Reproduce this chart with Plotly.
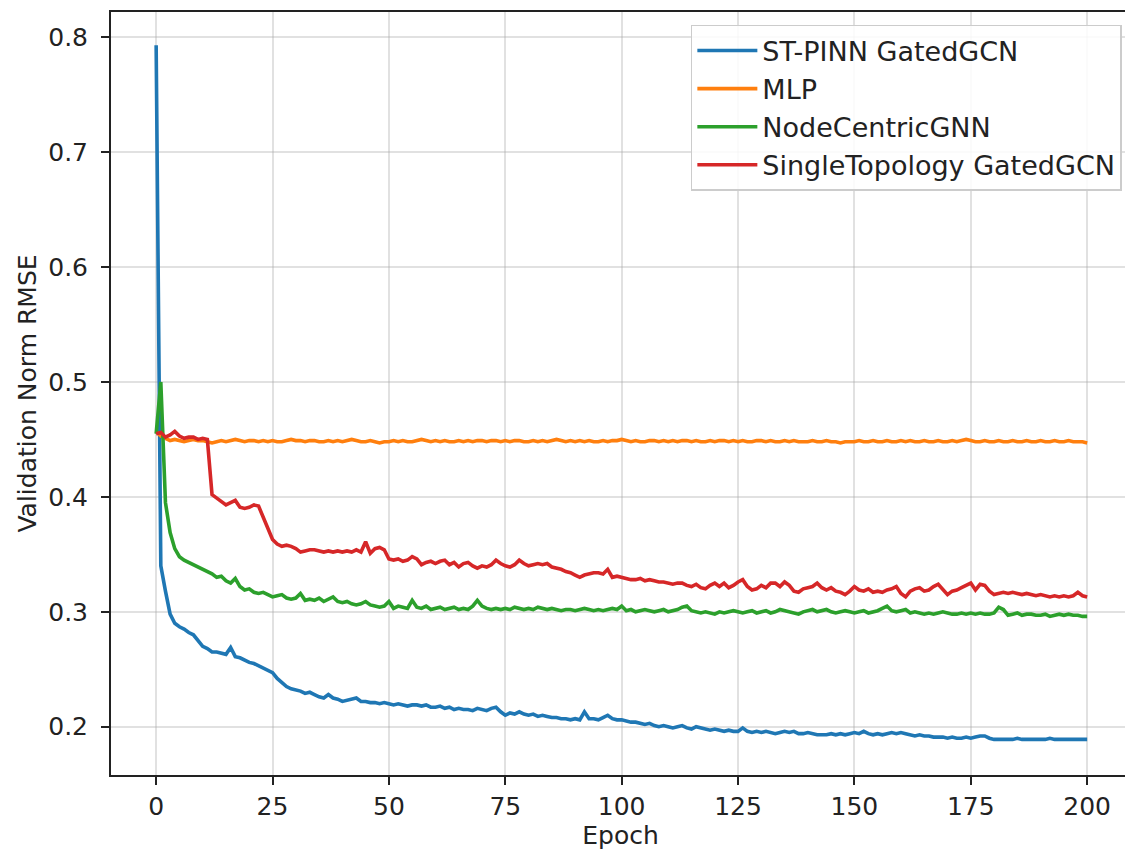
import plotly.graph_objects as go

# colours (matplotlib tab10)
c_pinn = '#1f77b4'
c_mlp = '#ff7f0e'
c_node = '#2ca02c'
c_single = '#d62728'

epochs = list(range(201))

st_pinn = [
    0.793, 0.340, 0.318, 0.298, 0.290, 0.287, 0.285, 0.282, 0.280, 0.275,
    0.270, 0.268, 0.265, 0.265, 0.264, 0.263, 0.269, 0.261, 0.260, 0.258,
    0.256, 0.255, 0.253, 0.251, 0.249, 0.247, 0.242, 0.238, 0.235, 0.233,
    0.232, 0.231, 0.229, 0.230, 0.228, 0.226, 0.225, 0.228, 0.225, 0.224,
    0.222, 0.223, 0.224, 0.225, 0.222, 0.222, 0.221, 0.221, 0.220, 0.221,
    0.220, 0.219, 0.220, 0.219, 0.218, 0.219, 0.219, 0.218, 0.219, 0.217,
    0.217, 0.218, 0.216, 0.217, 0.215, 0.216, 0.215, 0.215, 0.214, 0.216,
    0.215, 0.214, 0.216, 0.217, 0.213, 0.210, 0.212, 0.211, 0.213, 0.211,
    0.210, 0.211, 0.209, 0.210, 0.209, 0.208, 0.208, 0.207, 0.207, 0.206,
    0.207, 0.206, 0.213, 0.207, 0.207, 0.206, 0.208, 0.210, 0.207, 0.206,
    0.206, 0.205, 0.204, 0.204, 0.203, 0.202, 0.203, 0.201, 0.200, 0.201,
    0.200, 0.199, 0.200, 0.201, 0.199, 0.198, 0.200, 0.199, 0.198, 0.197,
    0.198, 0.197, 0.196, 0.197, 0.196, 0.196, 0.199, 0.196, 0.195, 0.196,
    0.195, 0.196, 0.195, 0.194, 0.195, 0.196, 0.195, 0.196, 0.194, 0.194,
    0.195, 0.194, 0.193, 0.193, 0.193, 0.194, 0.193, 0.194, 0.193, 0.194,
    0.195, 0.194, 0.196, 0.194, 0.193, 0.194, 0.193, 0.194, 0.195, 0.194,
    0.195, 0.194, 0.193, 0.192, 0.193, 0.192, 0.192, 0.191, 0.191, 0.191,
    0.190, 0.191, 0.190, 0.190, 0.191, 0.190, 0.191, 0.192, 0.192, 0.190,
    0.189, 0.189, 0.189, 0.189, 0.189, 0.190, 0.189, 0.189, 0.189, 0.189,
    0.189, 0.189, 0.190, 0.189, 0.189, 0.189, 0.189, 0.189, 0.189, 0.189,
    0.189,
]

mlp = [
    0.457, 0.453, 0.451, 0.449, 0.450, 0.449, 0.448, 0.449, 0.450, 0.449,
    0.449, 0.448, 0.447, 0.448, 0.449, 0.448, 0.449, 0.450, 0.449, 0.448,
    0.449, 0.449, 0.448, 0.449, 0.448, 0.449, 0.448, 0.448, 0.449, 0.450,
    0.449, 0.449, 0.448, 0.449, 0.449, 0.448, 0.448, 0.449, 0.448, 0.449,
    0.448, 0.449, 0.450, 0.449, 0.448, 0.448, 0.449, 0.448, 0.447, 0.448,
    0.448, 0.449, 0.448, 0.449, 0.448, 0.448, 0.449, 0.450, 0.449, 0.448,
    0.449, 0.448, 0.449, 0.448, 0.448, 0.449, 0.448, 0.449, 0.448, 0.449,
    0.449, 0.448, 0.449, 0.449, 0.448, 0.449, 0.448, 0.449, 0.449, 0.448,
    0.448, 0.449, 0.448, 0.449, 0.448, 0.449, 0.450, 0.449, 0.448, 0.449,
    0.448, 0.449, 0.448, 0.449, 0.448, 0.448, 0.449, 0.448, 0.449, 0.449,
    0.450, 0.449, 0.448, 0.449, 0.448, 0.448, 0.449, 0.449, 0.448, 0.449,
    0.448, 0.449, 0.448, 0.449, 0.449, 0.448, 0.449, 0.448, 0.448, 0.449,
    0.448, 0.449, 0.449, 0.448, 0.449, 0.448, 0.449, 0.448, 0.448, 0.449,
    0.449, 0.448, 0.449, 0.448, 0.448, 0.449, 0.448, 0.449, 0.448, 0.448,
    0.448, 0.449, 0.448, 0.448, 0.449, 0.448, 0.448, 0.447, 0.448, 0.448,
    0.448, 0.449, 0.448, 0.448, 0.449, 0.448, 0.448, 0.449, 0.448, 0.448,
    0.449, 0.448, 0.449, 0.448, 0.448, 0.449, 0.448, 0.448, 0.449, 0.448,
    0.448, 0.449, 0.448, 0.449, 0.450, 0.449, 0.448, 0.448, 0.449, 0.448,
    0.448, 0.449, 0.448, 0.448, 0.449, 0.448, 0.448, 0.449, 0.448, 0.448,
    0.449, 0.448, 0.448, 0.449, 0.448, 0.448, 0.449, 0.448, 0.448, 0.448,
    0.447,
]

node_centric = [
    0.455, 0.500, 0.395, 0.369, 0.355, 0.348, 0.345, 0.343, 0.341, 0.339,
    0.337, 0.335, 0.333, 0.330, 0.331, 0.327, 0.325, 0.329, 0.322, 0.319,
    0.320, 0.317, 0.316, 0.317, 0.315, 0.313, 0.314, 0.315, 0.312, 0.311,
    0.312, 0.316, 0.310, 0.311, 0.310, 0.312, 0.309, 0.311, 0.313, 0.309,
    0.308, 0.309, 0.307, 0.306, 0.307, 0.309, 0.306, 0.305, 0.304, 0.305,
    0.309, 0.303, 0.305, 0.304, 0.303, 0.310, 0.304, 0.303, 0.305, 0.302,
    0.303, 0.304, 0.302, 0.303, 0.304, 0.302, 0.303, 0.302, 0.305, 0.310,
    0.305, 0.303, 0.302, 0.303, 0.302, 0.303, 0.302, 0.304, 0.303, 0.302,
    0.303, 0.302, 0.304, 0.303, 0.302, 0.303, 0.302, 0.301, 0.302, 0.302,
    0.301, 0.302, 0.303, 0.302, 0.301, 0.302, 0.301, 0.302, 0.303, 0.302,
    0.305, 0.301, 0.302, 0.300, 0.301, 0.302, 0.301, 0.300, 0.301, 0.302,
    0.300, 0.301, 0.302, 0.304, 0.305, 0.301, 0.300, 0.299, 0.300, 0.299,
    0.298, 0.300, 0.299, 0.300, 0.301, 0.300, 0.299, 0.300, 0.301, 0.299,
    0.300, 0.301, 0.299, 0.300, 0.302, 0.301, 0.300, 0.299, 0.298, 0.300,
    0.301, 0.302, 0.300, 0.301, 0.302, 0.300, 0.299, 0.300, 0.301, 0.300,
    0.299, 0.300, 0.301, 0.299, 0.300, 0.301, 0.303, 0.305, 0.301, 0.300,
    0.301, 0.302, 0.299, 0.300, 0.299, 0.298, 0.299, 0.298, 0.299, 0.300,
    0.299, 0.298, 0.298, 0.299, 0.298, 0.299, 0.298, 0.299, 0.298, 0.298,
    0.299, 0.304, 0.302, 0.297, 0.298, 0.299, 0.297, 0.298, 0.298, 0.297,
    0.297, 0.298, 0.296, 0.297, 0.298, 0.297, 0.298, 0.297, 0.297, 0.296,
    0.296,
]

single_topology = [
    0.455, 0.456, 0.452, 0.454, 0.457, 0.453, 0.451, 0.452, 0.452, 0.450,
    0.451, 0.450, 0.402, 0.399, 0.396, 0.393, 0.395, 0.397, 0.391, 0.390,
    0.391, 0.393, 0.392, 0.382, 0.372, 0.363, 0.359, 0.357, 0.358, 0.357,
    0.355, 0.352, 0.353, 0.354, 0.354, 0.353, 0.352, 0.353, 0.352, 0.353,
    0.352, 0.353, 0.352, 0.354, 0.352, 0.361, 0.351, 0.355, 0.356, 0.354,
    0.346, 0.345, 0.346, 0.344, 0.345, 0.348, 0.346, 0.341, 0.343, 0.344,
    0.342, 0.344, 0.345, 0.341, 0.343, 0.339, 0.342, 0.343, 0.340, 0.338,
    0.340, 0.339, 0.341, 0.345, 0.342, 0.340, 0.339, 0.341, 0.345, 0.342,
    0.340, 0.341, 0.342, 0.341, 0.342, 0.339, 0.338, 0.337, 0.335, 0.334,
    0.332, 0.330, 0.332, 0.333, 0.334, 0.334, 0.333, 0.337, 0.330, 0.331,
    0.330, 0.329, 0.328, 0.328, 0.329, 0.327, 0.328, 0.327, 0.326, 0.326,
    0.325, 0.324, 0.325, 0.325, 0.323, 0.322, 0.324, 0.321, 0.320, 0.323,
    0.325, 0.322, 0.325, 0.321, 0.323, 0.326, 0.328, 0.322, 0.319, 0.320,
    0.323, 0.321, 0.325, 0.325, 0.322, 0.326, 0.323, 0.318, 0.317, 0.320,
    0.321, 0.322, 0.325, 0.321, 0.319, 0.321, 0.318, 0.317, 0.315, 0.318,
    0.322, 0.319, 0.318, 0.320, 0.317, 0.318, 0.317, 0.319, 0.320, 0.322,
    0.316, 0.313, 0.318, 0.320, 0.321, 0.318, 0.319, 0.322, 0.324, 0.319,
    0.315, 0.318, 0.319, 0.321, 0.323, 0.325, 0.319, 0.324, 0.323, 0.318,
    0.315, 0.316, 0.317, 0.316, 0.317, 0.316, 0.315, 0.316, 0.315, 0.314,
    0.315, 0.314, 0.313, 0.314, 0.313, 0.314, 0.313, 0.314, 0.317, 0.314,
    0.313,
]

x_ticks = [0, 25, 50, 75, 100, 125, 150, 175, 200]
y_ticks = [0.2, 0.3, 0.4, 0.5, 0.6, 0.7, 0.8]

series = [
    ('ST-PINN GatedGCN', st_pinn, c_pinn),
    ('MLP', mlp, c_mlp),
    ('NodeCentricGNN', node_centric, c_node),
    ('SingleTopology GatedGCN', single_topology, c_single),
]

fig = go.Figure()
for name, vals, col in series:
    fig.add_trace(go.Scatter(x=epochs, y=vals, mode='lines', name=name,
                             legendgroup=name,
                             line=dict(color=col, width=3.6)))

axis_style = dict(showline=True, linecolor='#222', linewidth=2, mirror=True,
                  ticks='outside', ticklen=8, tickwidth=2, tickcolor='#222',
                  showgrid=True, gridcolor='rgba(170,170,170,0.35)',
                  gridwidth=1.5, zeroline=False, automargin=False,
                  tickfont=dict(size=25, color='#222'))

fig.update_xaxes(range=[-9.7, 209.2], tickvals=x_ticks,
                 title=dict(text='Epoch', font=dict(size=25, color='#222'),
                            standoff=4),
                 **axis_style)
fig.update_yaxes(range=[0.158, 0.822], tickvals=y_ticks,
                 tickformat='.1f', ticklabelstandoff=8,
                 title=dict(text='Validation Norm RMSE',
                            font=dict(size=25, color='#222'), standoff=4),
                 **axis_style)

# page body adds an 8px margin, so the figure is 8px smaller each way
fig.update_layout(
    width=1125, height=844,
    margin=dict(l=103, r=3, t=4, b=77),
    paper_bgcolor='white', plot_bgcolor='white',
    font=dict(family='DejaVu Sans', size=25, color='#222'),
    showlegend=True,
    legend=dict(x=0.992, y=0.983, xanchor='right', yanchor='top',
                bgcolor='rgba(255,255,255,0.85)', bordercolor='#cccccc',
                borderwidth=1.5, tracegroupgap=0, itemwidth=60,
                font=dict(size=27, color='#222')),
)

fig.write_html('out.html')
